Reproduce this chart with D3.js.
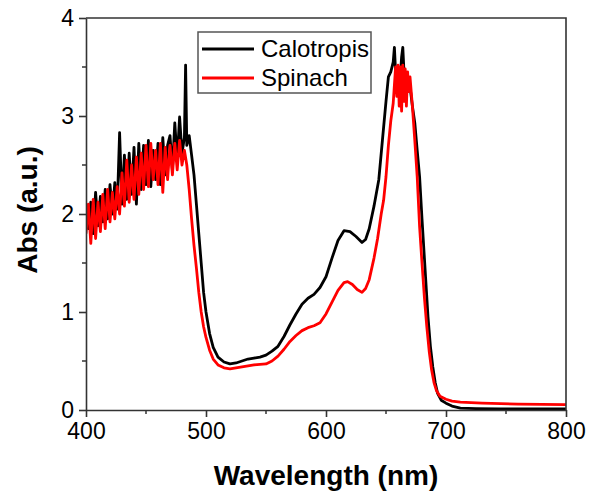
<!DOCTYPE html>
<html>
<head>
<meta charset="utf-8">
<script src="https://cdn.jsdelivr.net/npm/d3@7"></script>
<style>
	body { margin: 0; background: #fff; }
	text { font-family: Arial, "Liberation Sans", sans-serif; fill: #000; }
</style>
</head>
<body>
<svg id="chart" width="594" height="495"></svg>
<script>
var seriesNames = ["Calotropis", "Spinach"];
var seriesColors = ["#000000", "#ff0000"];
var xTicks = [400, 500, 600, 700, 800];
var yTicks = [0, 1, 2, 3, 4];

// Calotropis (black)
var calotropisWl = [
	400, 402, 404, 406, 408, 410, 412, 414, 416, 418, 420, 422, 424, 426, 428, 430,
	432, 434, 436, 438, 440, 442, 444, 446, 448, 450, 452, 454, 456, 458, 460, 462,
	464, 466, 468, 470, 472, 474, 476, 478, 480, 482, 483, 484, 486, 488, 490, 492,
	494, 496, 498, 500, 503, 506, 510, 515, 520, 525, 530, 535, 540, 545, 550, 555,
	560, 565, 570, 575, 580, 585, 590, 595, 600, 605, 610, 615, 620, 625, 630, 633,
	636, 640, 644, 647, 650, 652, 654, 656, 657, 658, 660, 662, 663, 664, 665, 667,
	670, 672, 674, 676, 678, 680, 682, 685, 687, 689, 691, 693, 696, 700, 705, 712,
	725, 745, 800
];
var calotropisAbs = [
	2.05, 1.85, 2.12, 1.80, 2.22, 1.88, 2.18, 1.92, 2.25, 1.95, 2.30, 2.00, 2.32, 2.05, 2.83, 2.10,
	2.60, 2.15, 2.62, 2.20, 2.68, 2.10, 2.72, 2.25, 2.70, 2.30, 2.75, 2.28, 2.65, 2.35, 2.72, 2.30,
	2.78, 2.40, 2.70, 2.80, 2.45, 2.93, 2.55, 2.99, 2.62, 2.78, 3.52, 2.70, 2.80, 2.60, 2.40, 2.10,
	1.80, 1.50, 1.20, 1.00, 0.78, 0.64, 0.54, 0.49, 0.47, 0.48, 0.50, 0.52, 0.53, 0.54, 0.56, 0.60,
	0.65, 0.75, 0.87, 0.98, 1.08, 1.14, 1.18, 1.25, 1.36, 1.55, 1.73, 1.83, 1.82, 1.77, 1.71, 1.74,
	1.85, 2.08, 2.35, 2.75, 3.15, 3.40, 3.45, 3.55, 3.70, 3.45, 3.50, 3.42, 3.60, 3.70, 3.45, 3.40,
	3.30, 3.10, 2.93, 2.65, 2.38, 1.95, 1.55, 0.95, 0.65, 0.44, 0.28, 0.17, 0.10, 0.07, 0.04, 0.02,
	0.015, 0.01, 0.01
];

// Spinach (red)
var spinachWl = [
	400, 402, 404, 406, 408, 410, 412, 414, 416, 418, 420, 422, 424, 426, 428, 430,
	432, 434, 436, 438, 440, 442, 444, 446, 448, 450, 452, 454, 456, 458, 460, 462,
	464, 466, 468, 470, 472, 474, 476, 478, 480, 482, 484, 486, 488, 490, 492, 494,
	496, 498, 500, 503, 506, 510, 515, 520, 525, 530, 540, 550, 555, 560, 565, 570,
	575, 580, 585, 590, 595, 600, 605, 610, 615, 618, 622, 626, 630, 633, 636, 640,
	643, 646, 648, 650, 652, 654, 656, 658, 659, 660, 661, 662, 663, 664, 665, 666,
	667, 668, 669, 670, 672, 674, 676, 678, 680, 682, 684, 686, 688, 690, 692, 695,
	700, 705, 712, 730, 760, 800
];
var spinachAbs = [
	1.80, 2.10, 1.70, 2.15, 1.75, 2.12, 1.82, 2.20, 1.85, 2.25, 1.92, 2.22, 1.95, 2.28, 2.00, 2.42,
	2.08, 2.55, 2.12, 2.50, 2.15, 2.58, 2.20, 2.62, 2.25, 2.70, 2.28, 2.72, 2.35, 2.65, 2.30, 2.72,
	2.22, 2.68, 2.35, 2.70, 2.40, 2.72, 2.45, 2.75, 2.50, 2.65, 2.50, 2.25, 1.95, 1.68, 1.45, 1.20,
	1.00, 0.85, 0.74, 0.61, 0.52, 0.46, 0.43, 0.42, 0.43, 0.44, 0.46, 0.47, 0.50, 0.55, 0.62, 0.70,
	0.76, 0.81, 0.84, 0.86, 0.89, 0.98, 1.10, 1.22, 1.30, 1.31, 1.28, 1.23, 1.20, 1.24, 1.33, 1.55,
	1.75, 2.00, 2.14, 2.38, 2.70, 2.95, 3.13, 3.50, 3.20, 3.52, 3.10, 3.50, 3.05, 3.52, 3.15, 3.48,
	3.10, 3.45, 3.25, 3.40, 3.10, 2.75, 2.38, 1.87, 1.50, 1.15, 0.85, 0.60, 0.41, 0.28, 0.20, 0.14,
	0.11, 0.09, 0.08, 0.07, 0.06, 0.055
];

var svg = d3.select("#chart");
var plotLeft = 86, plotRight = 566, plotTop = 18, plotBottom = 410;
var axisColor = "#333333";

var x = d3.scaleLinear().domain([400, 800]).range([plotLeft, plotRight]);
var y = d3.scaleLinear().domain([0, 4]).range([plotBottom, plotTop]);

svg.append("defs").append("clipPath").attr("id", "plotClip")
	.append("rect")
	.attr("x", plotLeft).attr("y", plotTop - 2)
	.attr("width", plotRight - plotLeft).attr("height", plotBottom - plotTop + 2);

var series = [
	{ wl: calotropisWl, abs: calotropisAbs },
	{ wl: spinachWl, abs: spinachAbs }
];

var line = d3.line()
	.x(function(d) { return x(d[0]); })
	.y(function(d) { return y(d[1]); });

var plot = svg.append("g").attr("clip-path", "url(#plotClip)");
series.forEach(function(s, i) {
	var pts = s.wl.map(function(w, j) { return [w, s.abs[j]]; });
	plot.append("path")
		.datum(pts)
		.attr("fill", "none")
		.attr("stroke", seriesColors[i])
		.attr("stroke-width", 2.8)
		.attr("stroke-linejoin", "round")
		.attr("d", line);
});

// axes
var xAxis = svg.append("g")
	.attr("transform", "translate(0," + plotBottom + ")")
	.call(d3.axisBottom(x).tickValues(xTicks).tickSize(7).tickSizeOuter(0).tickPadding(6).tickFormat(d3.format("d")));
var yAxis = svg.append("g")
	.attr("transform", "translate(" + plotLeft + ",0)")
	.call(d3.axisLeft(y).tickValues(yTicks).tickSize(7).tickSizeOuter(0).tickPadding(5).tickFormat(d3.format("d")));

// minor ticks
svg.append("g").selectAll("line")
	.data([450, 550, 650, 750])
	.enter().append("line")
	.attr("x1", function(d) { return x(d); }).attr("x2", function(d) { return x(d); })
	.attr("y1", plotBottom).attr("y2", plotBottom + 4)
	.attr("stroke", axisColor).attr("stroke-width", 1.5);
svg.append("g").selectAll("line")
	.data([0.5, 1.5, 2.5, 3.5])
	.enter().append("line")
	.attr("y1", function(d) { return y(d); }).attr("y2", function(d) { return y(d); })
	.attr("x1", plotLeft).attr("x2", plotLeft - 4)
	.attr("stroke", axisColor).attr("stroke-width", 1.5);

[xAxis, yAxis].forEach(function(a) {
	a.selectAll("path, line").attr("stroke", axisColor).attr("stroke-width", 1.6);
	a.selectAll("text").attr("font-size", "23px").attr("fill", "#000")
		.style("font-family", "Arial, 'Liberation Sans', sans-serif");
});

// frame top and right
svg.append("path")
	.attr("d", "M" + plotLeft + "," + plotTop + "H" + plotRight + "V" + plotBottom)
	.attr("fill", "none")
	.attr("stroke", axisColor)
	.attr("stroke-width", 1.6);

// axis titles
svg.append("text")
	.attr("x", (plotLeft + plotRight) / 2)
	.attr("y", 485)
	.attr("text-anchor", "middle")
	.attr("font-size", "28px")
	.attr("font-weight", "bold")
	.text("Wavelength (nm)");

svg.append("text")
	.attr("transform", "translate(37," + 210 + ") rotate(-90)")
	.attr("text-anchor", "middle")
	.attr("font-size", "28px")
	.attr("font-weight", "bold")
	.text("Abs (a.u.)");

// legend
var legend = svg.append("g");
legend.append("rect")
	.attr("x", 198).attr("y", 32)
	.attr("width", 173).attr("height", 61)
	.attr("fill", "#fff")
	.attr("stroke", "#555")
	.attr("stroke-width", 1.5);

seriesNames.forEach(function(name, i) {
	var ly = 49 + i * 29;
	legend.append("line")
		.attr("x1", 202).attr("x2", 254)
		.attr("y1", ly).attr("y2", ly)
		.attr("stroke", seriesColors[i])
		.attr("stroke-width", 2.8);
	legend.append("text")
		.attr("x", 261).attr("y", ly + 8)
		.attr("font-size", "24px")
		.text(name);
});
</script>
</body>
</html>
